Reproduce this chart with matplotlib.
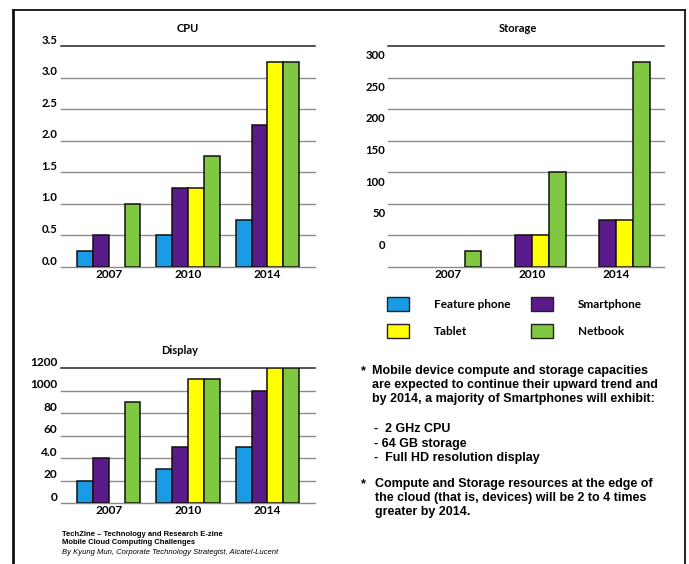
import numpy as np
import matplotlib.pyplot as plt
from matplotlib import transforms
from matplotlib.patches import Patch
from matplotlib.lines import Line2D

years = ['2007', '2010', '2014']
devices = ['Feature phone', 'Smartphone', 'Tablet', 'Netbook']
colors = ['#1a9be6', '#5a1a8a', '#ffff00', '#80c841']

# None = no bar for that year
cpu_feature = [0.25, 0.5, 0.75]
cpu_smart = [0.5, 1.25, 2.25]
cpu_tablet = [None, 1.25, 3.25]
cpu_netbook = [1.0, 1.75, 3.25]

storage_feature = [None, None, None]
storage_smart = [None, 50, 75]
storage_tablet = [None, 50, 75]
storage_netbook = [25, 150, 325]

display_feature = [20, 30, 50]
display_smart = [40, 50, 100]
display_tablet = [None, 110, 120]
display_netbook = [90, 110, 120]

cpu_ticks = [0.0, 0.5, 1.0, 1.5, 2.0, 2.5, 3.0, 3.5]
cpu_labels = ['0.0', '0.5', '1.0', '1.5', '2.0', '2.5', '3.0', '3.5']
storage_grid = [0, 50, 100, 150, 200, 250, 300, 350]
storage_labels = ['0', '50', '100', '150', '200', '250', '300']
display_ticks = [0, 20, 40, 60, 80, 100, 120]
display_labels = ['0', '20', '4.0', '60', '80', '1000', '1200']

W, H = 689, 564
plt.rcParams['font.family'] = ['Lato', 'DejaVu Sans']
fig = plt.figure(figsize=(W / 100, H / 100), dpi=100)


def box(l, t, r, b):
    return [l / W, 1 - b / H, (r - l) / W, (b - t) / H]


def draw_panel(ax, series, grid, xlim):
    x = np.arange(len(years))
    offsets = [-0.3, -0.1, 0.1, 0.3]
    for k, vals in enumerate(series):
        for i, v in enumerate(vals):
            if v is None:
                continue
            ax.bar(x[i] + offsets[k], v, width=0.2, color=colors[k],
                   edgecolor='#111111', linewidth=1.1, zorder=3)
    for j, g in enumerate(grid):
        c, lw = ('#222222', 1.1) if j == len(grid) - 1 else ('#8a8a8a', 1.0)
        ax.axhline(g, color=c, lw=lw, zorder=1, clip_on=False)
    ax.set_xlim(*xlim)
    ax.set_ylim(grid[0], grid[-1])
    for s in ax.spines.values():
        s.set_visible(False)
    ax.set_xticks(x)
    ax.set_xticklabels(years, fontsize=8.6, fontweight='bold')
    ax.tick_params(length=0, pad=1.5)


def shift_labels(ax, dy_pt):
    off = transforms.ScaledTranslation(0, dy_pt / 72, fig.dpi_scale_trans)
    for lab in ax.get_yticklabels():
        lab.set_transform(lab.get_transform() + off)


# CPU
ax1 = fig.add_axes(box(61, 46, 315, 267))
draw_panel(ax1, [cpu_feature, cpu_smart, cpu_tablet, cpu_netbook], cpu_ticks, (-0.6, 2.6))
ax1.set_yticks(cpu_ticks)
ax1.set_yticklabels(cpu_labels, fontsize=8.2, fontweight='bold')
ax1.tick_params(axis='y', pad=2.5)
shift_labels(ax1, 5)

# Storage: labels sit between the grid lines
ax2 = fig.add_axes(box(388, 46, 664, 267))
draw_panel(ax2, [storage_feature, storage_smart, storage_tablet, storage_netbook],
           storage_grid, (-0.71, 2.57))
ax2.set_yticks([v + 36 for v in storage_grid[:-1]])
ax2.set_yticklabels(storage_labels, fontsize=8.2, fontweight='bold')
ax2.tick_params(axis='y', pad=2)

# Display
ax3 = fig.add_axes(box(61, 368, 315, 503))
draw_panel(ax3, [display_feature, display_smart, display_tablet, display_netbook],
           display_ticks, (-0.6, 2.6))
ax3.set_yticks(display_ticks)
ax3.set_yticklabels(display_labels, fontsize=8.6, fontweight='bold')
ax3.tick_params(axis='y', pad=2.5)
shift_labels(ax3, 5)

fig.text(188 / W, 1 - 28 / H, 'CPU', ha='center', va='center', fontsize=8, fontweight='bold')
fig.text(518 / W, 1 - 28 / H, 'Storage', ha='center', va='center', fontsize=8, fontweight='bold')
fig.text(180 / W, 1 - 350 / H, 'Display', ha='center', va='center', fontsize=8, fontweight='bold')

# legend, two columns
handles = [Patch(facecolor=colors[i], edgecolor='#222222', linewidth=1.0) for i in (0, 2, 1, 3)]
labels = [devices[i] for i in (0, 2, 1, 3)]
fig.legend(handles, labels, loc='upper left', bbox_to_anchor=(381 / W, 1 - 291 / H),
           ncol=2, frameon=False, borderpad=0, handlelength=1.86, handleheight=1.44,
           handletextpad=2.1, columnspacing=1.75, labelspacing=1.1,
           prop={'weight': 'bold', 'size': 8.5})

# notes
tf = dict(family=['Liberation Sans', 'DejaVu Sans'], fontweight='bold', fontsize=9,
          va='top', linespacing=1.22)
fig.text(361 / W, 1 - 365 / H, '*', **tf)
fig.text(372 / W, 1 - 365 / H,
         'Mobile device compute and storage capacities\n'
         'are expected to continue their upward trend and\n'
         'by 2014, a majority of Smartphones will exhibit:', **tf)
fig.text(374 / W, 1 - 423 / H,
         '-  2 GHz CPU\n- 64 GB storage\n-  Full HD resolution display',
         **dict(tf, linespacing=1.3))
fig.text(361 / W, 1 - 478 / H, '*', **tf)
fig.text(375 / W, 1 - 478 / H,
         'Compute and Storage resources at the edge of\n'
         'the cloud (that is, devices) will be 2 to 4 times\n'
         'greater by 2014.', **tf)

ff = dict(family=['Liberation Sans', 'DejaVu Sans'], fontsize=5.5, va='center')
fig.text(62 / W, 1 - 534 / H, 'TechZine \u2013 Technology and Research E-zine', fontweight='bold', **ff)
fig.text(62 / W, 1 - 543 / H, 'Mobile Cloud Computing Challenges', fontweight='bold', **ff)
fig.text(62 / W, 1 - 552 / H, 'By Kyung Mun, Corporate Technology Strategist, Alcatel-Lucent',
         style='italic', **ff)

# outer frame, open at the bottom
fig.add_artist(Line2D([13 / W, 685 / W], [1 - 10 / H, 1 - 10 / H], color='#111111', lw=1.3))
fig.add_artist(Line2D([13 / W, 13 / W], [1 - 10 / H, 0], color='#111111', lw=2.0))
fig.add_artist(Line2D([685 / W, 685 / W], [1 - 10 / H, 0], color='#111111', lw=1.3))

fig.savefig('out.png', dpi=100)
